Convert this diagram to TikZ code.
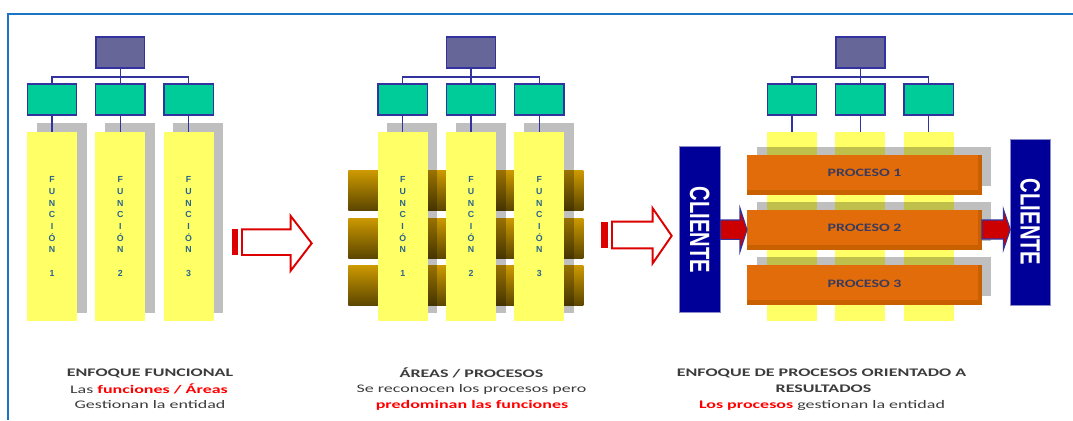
\documentclass[tikz,border=0pt]{standalone}
\usepackage{fontspec}
\setmainfont{Carlito}
\newfontfamily\arialf{Liberation Sans}
\usetikzlibrary{calc}
\definecolor{framec}{RGB}{30,116,196}
\definecolor{linkblue}{RGB}{51,51,160}
\definecolor{topfill}{RGB}{102,102,153}
\definecolor{greenfill}{RGB}{0,204,153}
\definecolor{yellowfill}{RGB}{255,255,102}
\definecolor{funcblue}{RGB}{40,100,140}
\definecolor{brownA}{RGB}{204,153,0}
\definecolor{brownB}{RGB}{92,70,0}
\definecolor{orangefill}{RGB}{226,108,10}
\definecolor{orangedark}{RGB}{200,96,0}
\definecolor{procblue}{RGB}{59,59,94}
\definecolor{clientblue}{RGB}{0,0,153}
\definecolor{clientedge}{RGB}{140,140,200}
\definecolor{arrowred}{RGB}{204,0,0}
\definecolor{outred}{RGB}{220,0,0}
\definecolor{textgray}{RGB}{60,60,60}
\definecolor{hired}{RGB}{255,0,0}
\newcommand{\wide}[2][1.55]{\scalebox{#1}[1]{#2}}
\begin{document}
\begin{tikzpicture}[x=0.02cm,y=-0.02cm,
  box/.style={draw=linkblue, line width=0.8pt, inner sep=0pt, outer sep=0pt},
  topbox/.style={box, fill=topfill, minimum width=0.98cm, minimum height=0.62cm},
  greenbox/.style={box, fill=greenfill, minimum width=0.99cm, minimum height=0.62cm},
  yellowcol/.style={fill=yellowfill, inner sep=0pt, outer sep=0pt, minimum width=1cm, minimum height=3.78cm,
    font=\arialf\bfseries\fontsize{5}{6.65}\selectfont, text=funcblue, align=center},
  shadowbox/.style={fill=black, fill opacity=0.25},
  conn/.style={draw=linkblue, line width=0.8pt},
  procbar/.style={fill=orangefill, inner sep=0pt, outer sep=0pt, minimum width=4.7cm, minimum height=0.8cm,
    text=procblue, font=\bfseries\fontsize{6.45}{7}\selectfont},
  clientbox/.style={fill=clientblue, draw=clientedge, line width=0.4pt, inner sep=0pt, outer sep=0pt,
    minimum height=3.32cm, text=white, font=\arialf\bfseries\fontsize{11.5}{12}\selectfont},
  redarrow/.style={fill=arrowred, draw=linkblue, line width=0.6pt, line join=miter},
  outarrow/.style={draw=outred, fill=white, line width=1.1pt, line join=miter},
  caption/.style={inner sep=0pt, text=textgray, font=\fontsize{6.6}{8}\selectfont},
]
\useasboundingbox (0,0) rectangle (1073,420);
\fill[white] (0,0) rectangle (1073,420);
% frame
\draw[framec, line width=1.4pt] (8,420) -- (8,14) -- (1073,14);

% ---------- panel 2 background bars ----------
\foreach \ya/\yb in {170.7/210, 218/258.3, 265.3/305.3}
  \shade[top color=brownA, bottom color=brownB] (348.3,\ya) rectangle (583.3,\yb);

% ---------- shadows and yellow columns, panels 1 and 2 ----------
\foreach \p/\xo in {1/27, 2/377.7} {
  \foreach \i in {1,2,3} {
    \pgfmathsetmacro{\cx}{\xo+(\i-1)*68.3+25}
    \fill[shadowbox] (\cx-25+9.5,123) rectangle (\cx+25+9.5,313);
    \node[yellowcol] (y\p\i) at (\cx,226.6) {F\\U\\N\\C\\I\\Ó\\N\\\mbox{}\\\i};
  }
}
% ---------- panel 3 yellow columns, shadows, processes ----------
\foreach \i in {1,2,3} {
  \pgfmathsetmacro{\cx}{767+(\i-1)*68.3+25}
  \node[yellowcol] (y3\i) at (\cx,226.6) {};
}
\foreach \ya/\yb in {146.7/186, 202/240.7, 257/296}
  \fill[shadowbox] (756.7,\ya) rectangle (991.3,\yb);
\foreach \i/\yc in {1/174.7, 2/229.5, 3/285.2} {
  \node[procbar] (pr\i) at (864.5,\yc) {};
  \fill[orangedark] (pr\i.south west) rectangle ($(pr\i.south east)+(0,-5)$);
  \fill[orangedark] ($(pr\i.north east)+(-4,0)$) rectangle (pr\i.south east);
  \node[procbar, fill=none] (pt\i) at (864.5,\yc-1.5) {\wide[1.4]{PROCESO \i}};
}

% ---------- org charts ----------
\foreach \p/\xo in {1/27, 2/377.7, 3/767} {
  \pgfmathsetmacro{\tx}{\xo+68.3+25}
  \node[topbox] (t\p) at (\tx,52.5) {};
  \foreach \i in {1,2,3} {
    \pgfmathsetmacro{\gx}{\xo+(\i-1)*68.3+25}
    \node[greenbox] (g\p\i) at (\gx,99.5) {};
  }
  \draw[conn] (t\p.south) -- ++(0,9);
  \draw[conn] (g\p1.north) |- (t\p.south |- 0,77) -| (g\p3.north);
  \draw[conn] (t\p.south |- 0,77) -- (g\p2.north);
  \foreach \i in {1,2,3}
    \draw[conn] (g\p\i.south) -- (y\p\i.north);
}

% ---------- clients ----------
\node[clientbox, minimum width=0.82cm] (cl1) at (699.8,229.7) {\scalebox{1.38}[1]{\rotatebox{-90}{CLIENTE}}};
\node[clientbox, minimum width=0.794cm] (cl2) at (1030.2,222.2) {\scalebox{1.38}[1]{\rotatebox{-90}{CLIENTE}}};

% red arrows
\draw[redarrow] (cl1.east |- 0,220) -- (740,220) -- (740,208) -- (pr2.west |- 0,229.7) -- (740,251.7) -- (740,239.3) -- (cl1.east |- 0,239.3) -- cycle;
\draw[redarrow] (pr2.east |- 0,220) -- (1003.3,220) -- (1003.3,209) -- (cl2.west |- 0,229.5) -- (1003.3,250) -- (1003.3,239) -- (pr2.east |- 0,239) -- cycle;

% ---------- outline arrows ----------
\fill[outred] (231.7,229.3) rectangle (237.7,255);
\draw[outarrow] (242,229.3) -- (290.7,229.3) -- (290.7,216) -- (311.7,243.3) -- (290.7,270.7) -- (290.7,255) -- (242,255) -- cycle;
\fill[outred] (601,221.7) rectangle (607.7,248.3);
\draw[outarrow] (612,221.7) -- (652.7,221.7) -- (652.7,208.3) -- (671.7,235.8) -- (652.7,263.3) -- (652.7,248.3) -- (612,248.3) -- cycle;

% ---------- captions ----------
\node[caption] (c11) at (150,373) {\wide{\bfseries ENFOQUE FUNCIONAL}};
\node[caption] (c12) at (149,389) {\wide{Las {\color{hired}\bfseries funciones / Áreas}}};
\node[caption] (c13) at (150,405) {\wide{Gestionan la entidad}};
\node[caption] (c21) at (471.5,373) {\wide{\bfseries ÁREAS / PROCESOS}};
\node[caption] (c22) at (471.5,389) {\wide{Se reconocen los procesos pero}};
\node[caption] (c23) at (472,405) {\wide{\color{hired}\bfseries predominan las funciones}};
\node[caption] (c31) at (821.5,373) {\wide{\bfseries ENFOQUE DE PROCESOS ORIENTADO A}};
\node[caption] (c32) at (823.5,389) {\wide{\bfseries RESULTADOS}};
\node[caption] (c33) at (822,405) {\wide{{\color{hired}\bfseries Los procesos} gestionan la entidad}};
\end{tikzpicture}
\end{document}
